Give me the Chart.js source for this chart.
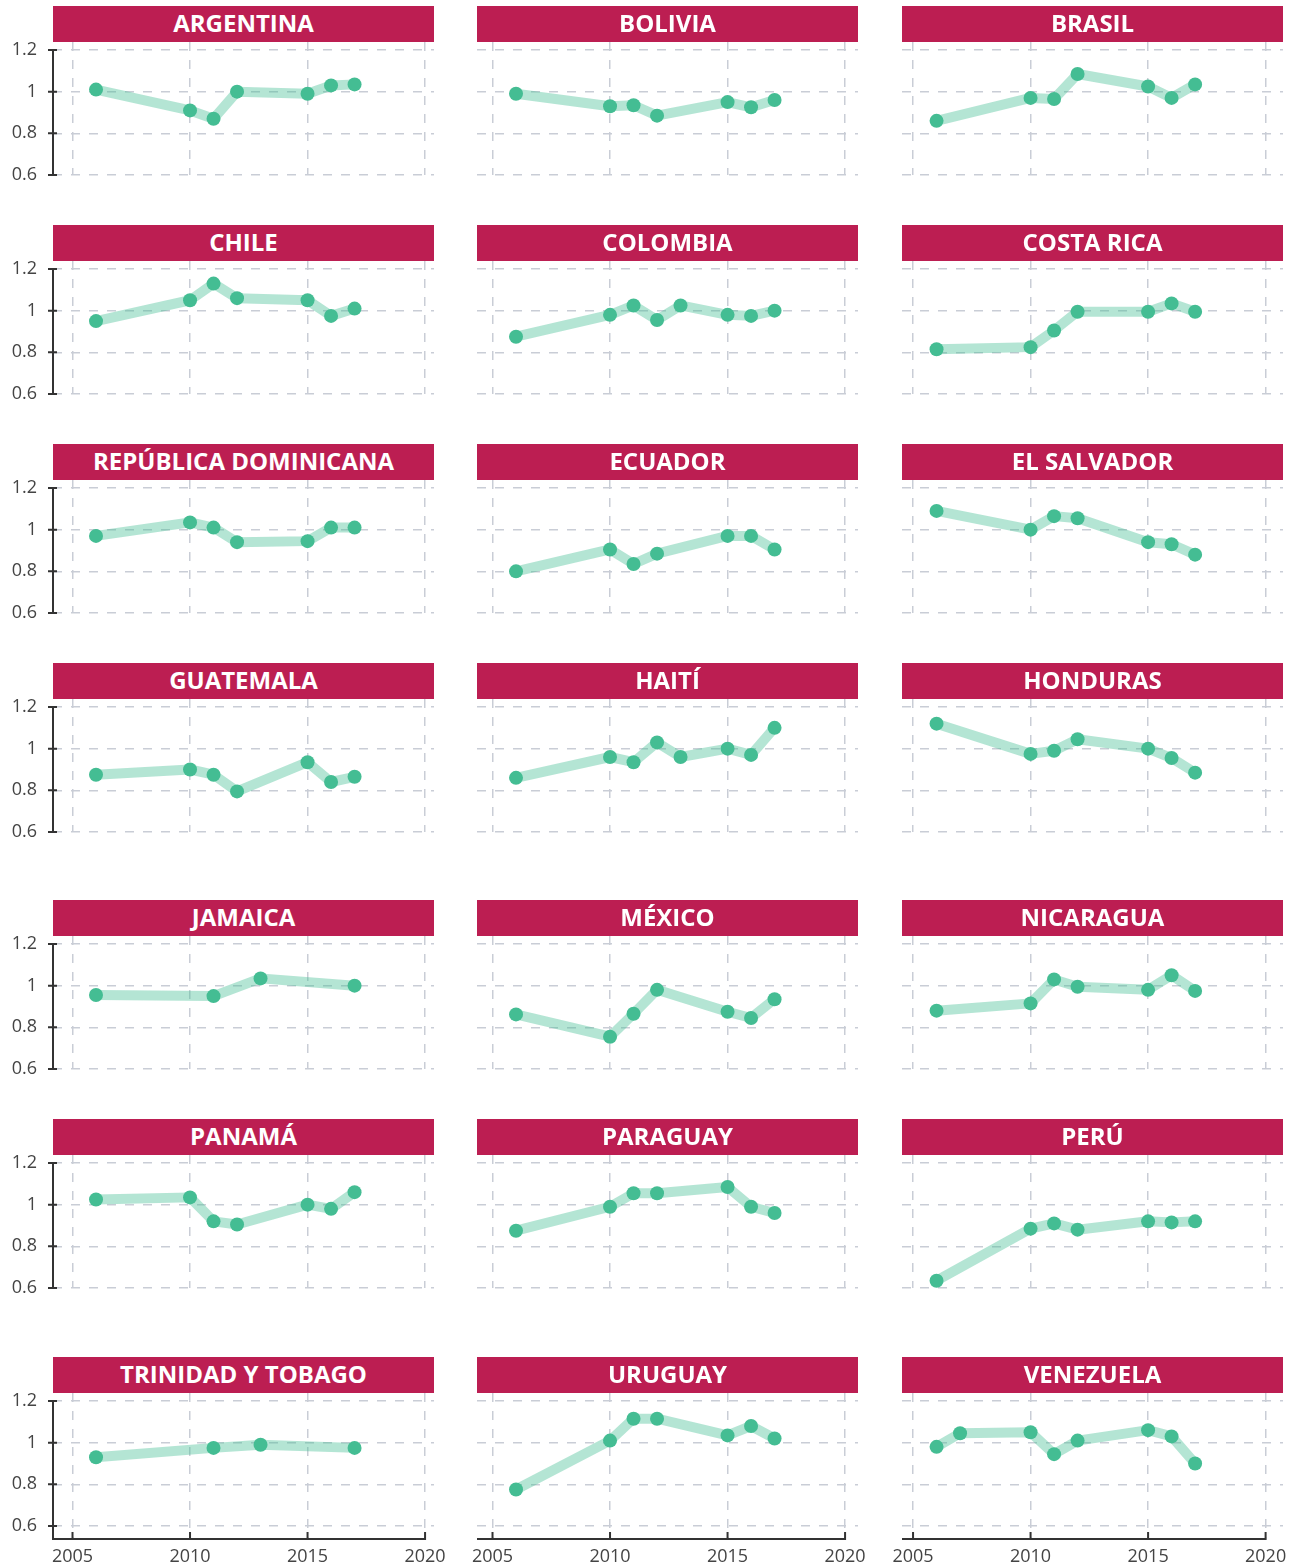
<!DOCTYPE html>
<html>
<head>
<meta charset="utf-8">
<script src="https://cdn.jsdelivr.net/npm/chart.js@4.4.0/dist/chart.umd.min.js"></script>
<style>
  html, body { margin: 0; padding: 0; background: #fff; }
  #page { position: relative; width: 1312px; height: 1566px; overflow: hidden; }
  .head {
    position: absolute; width: 381px; height: 36px; line-height: 37px;
    background: #bc1e52; color: #fff; text-align: center; z-index: 2;
    font: bold 24px 'Open Sans', sans-serif; white-space: nowrap;
  }
  canvas { position: absolute; z-index: 1; }
</style>
</head>
<body>
<div id="page"></div>
<script>
// ---- data ----
const countries = [
  'ARGENTINA', 'BOLIVIA', 'BRASIL',
  'CHILE', 'COLOMBIA', 'COSTA RICA',
  'REPÚBLICA DOMINICANA', 'ECUADOR', 'EL SALVADOR',
  'GUATEMALA', 'HAITÍ', 'HONDURAS',
  'JAMAICA', 'MÉXICO', 'NICARAGUA',
  'PANAMÁ', 'PARAGUAY', 'PERÚ',
  'TRINIDAD Y TOBAGO', 'URUGUAY', 'VENEZUELA'
];

const yearsMain = [2006, 2010, 2011, 2012, 2015, 2016, 2017];
const yearsLong = [2006, 2010, 2011, 2012, 2013, 2015, 2016, 2017];
const yearsShort = [2006, 2011, 2013, 2017];
const yearsVen = [2006, 2007, 2010, 2011, 2012, 2015, 2016, 2017];

const argentina = [1.01, 0.91, 0.87, 1.00, 0.99, 1.03, 1.035];
const bolivia = [0.99, 0.93, 0.935, 0.885, 0.95, 0.925, 0.96];
const brasil = [0.86, 0.97, 0.965, 1.085, 1.025, 0.97, 1.035];
const chile = [0.95, 1.05, 1.13, 1.06, 1.05, 0.975, 1.01];
const colombia = [0.875, 0.98, 1.025, 0.955, 1.025, 0.98, 0.975, 1.0];
const costaRica = [0.815, 0.825, 0.905, 0.995, 0.995, 1.035, 0.995];
const repDominicana = [0.97, 1.035, 1.01, 0.94, 0.945, 1.01, 1.01];
const ecuador = [0.80, 0.905, 0.835, 0.885, 0.97, 0.97, 0.905];
const elSalvador = [1.09, 1.0, 1.065, 1.055, 0.94, 0.93, 0.88];
const guatemala = [0.875, 0.90, 0.875, 0.795, 0.935, 0.84, 0.865];
const haiti = [0.86, 0.96, 0.935, 1.03, 0.96, 1.0, 0.97, 1.10];
const honduras = [1.12, 0.975, 0.99, 1.045, 1.0, 0.955, 0.885];
const jamaica = [0.955, 0.95, 1.035, 1.0];
const mexico = [0.862, 0.755, 0.865, 0.98, 0.875, 0.845, 0.935];
const nicaragua = [0.88, 0.915, 1.03, 0.995, 0.98, 1.05, 0.975];
const panama = [1.025, 1.035, 0.92, 0.905, 1.0, 0.98, 1.06];
const paraguay = [0.875, 0.99, 1.055, 1.055, 1.085, 0.99, 0.96];
const peru = [0.635, 0.885, 0.91, 0.88, 0.92, 0.915, 0.92];
const trinidad = [0.93, 0.975, 0.99, 0.975];
const uruguay = [0.775, 1.01, 1.115, 1.115, 1.035, 1.08, 1.02];
const venezuela = [0.98, 1.045, 1.05, 0.945, 1.01, 1.06, 1.03, 0.90];

const seriesValues = [
  argentina, bolivia, brasil,
  chile, colombia, costaRica,
  repDominicana, ecuador, elSalvador,
  guatemala, haiti, honduras,
  jamaica, mexico, nicaragua,
  panama, paraguay, peru,
  trinidad, uruguay, venezuela
];
const seriesYears = [
  yearsMain, yearsMain, yearsMain,
  yearsMain, yearsLong, yearsMain,
  yearsMain, yearsMain, yearsMain,
  yearsMain, yearsLong, yearsMain,
  yearsShort, yearsMain, yearsMain,
  yearsMain, yearsMain, yearsMain,
  yearsShort, yearsMain, yearsVen
];

const xTicks = [2005, 2010, 2015, 2020];
const yTicks = [0.6, 0.8, 1, 1.2];

// ---- layout ----
const rowTops = [6, 225, 444, 663, 900, 1119, 1357];
const colLefts = [53, 477, 902];
const colXMin = [2004.17, 2004.34, 2004.53];   // each column's axis starts a bit differently
const X_SPAN = 16.21;
const PANEL_W = 381;
const HEAD_H = 36;

const POINT_COLOR = '#44bd93';
const LINE_COLOR = 'rgba(68, 189, 147, 0.4)';
const GRID_COLOR = '#c9cdd6';
const AXIS_COLOR = '#333';

Chart.defaults.font.family = "'Open Sans', sans-serif";
Chart.defaults.font.size = 18;
Chart.defaults.color = '#444';

// axis lines with cross ticks (left column) and inward ticks (bottom row)
const panelAxes = {
  id: 'panelAxes',
  afterDraw(chart, args, opts) {
    const { ctx, chartArea: a, scales: { x, y } } = chart;
    ctx.save();
    ctx.strokeStyle = AXIS_COLOR;
    ctx.lineWidth = 2;
    ctx.setLineDash([]);
    if (opts.left) {
      ctx.beginPath();
      ctx.moveTo(a.left, y.getPixelForValue(yTicks[yTicks.length - 1]) - 1);
      ctx.lineTo(a.left, a.bottom + (opts.bottom ? 1 : 0));
      yTicks.forEach(v => {
        const py = y.getPixelForValue(v);
        ctx.moveTo(a.left - 5, py);
        ctx.lineTo(a.left + 4, py);
      });
      ctx.stroke();
    }
    if (opts.bottom) {
      ctx.beginPath();
      ctx.moveTo(a.left, a.bottom);
      ctx.lineTo(x.getPixelForValue(xTicks[xTicks.length - 1]) + 1, a.bottom);
      xTicks.forEach(v => {
        const px = x.getPixelForValue(v);
        ctx.moveTo(px, a.bottom + 1);
        ctx.lineTo(px, a.bottom - 7);
      });
      ctx.stroke();
    }
    ctx.restore();
  }
};

const page = document.getElementById('page');

countries.forEach((name, i) => {
  const row = Math.floor(i / 3);
  const col = i % 3;
  const left = col === 0;
  const bottom = row === rowTops.length - 1;
  const headTop = rowTops[row];
  const headLeft = colLefts[col];
  const headBottom = headTop + HEAD_H;

  const head = document.createElement('div');
  head.className = 'head';
  head.style.left = headLeft + 'px';
  head.style.top = headTop + 'px';
  head.textContent = name;
  page.appendChild(head);

  const padL = left ? 0 : 15;
  const padR = 20;
  const padT = 12;
  const plotH = bottom ? 146 : 133;
  const xAxisH = bottom ? 32 : 0;
  const padB = bottom ? 0 : 12;

  const canvas = document.createElement('canvas');
  const cw = (left ? headLeft : padL) + PANEL_W + padR;
  const ch = padT + plotH + xAxisH + padB;
  canvas.width = cw;
  canvas.height = ch;
  canvas.style.width = cw + 'px';
  canvas.style.height = ch + 'px';
  canvas.style.left = (left ? 0 : headLeft - padL) + 'px';
  canvas.style.top = (headBottom - padT) + 'px';
  page.appendChild(canvas);

  const points = seriesYears[i].map((yr, k) => ({ x: yr, y: seriesValues[i][k] }));

  new Chart(canvas.getContext('2d'), {
    type: 'line',
    data: {
      datasets: [{
        data: points,
        borderColor: LINE_COLOR,
        borderWidth: 10,
        borderJoinStyle: 'round',
        pointRadius: 7,
        pointHoverRadius: 7,
        pointBorderWidth: 0,
        pointBackgroundColor: POINT_COLOR,
        tension: 0
      }]
    },
    options: {
      responsive: false,
      animation: false,
      devicePixelRatio: 1,
      layout: { padding: { left: padL, right: padR, top: padT, bottom: padB } },
      plugins: {
        legend: { display: false },
        tooltip: { enabled: false },
        panelAxes: { left, bottom }
      },
      scales: {
        x: {
          type: 'linear',
          min: colXMin[col],
          max: colXMin[col] + X_SPAN,
          afterBuildTicks: s => { s.ticks = xTicks.map(v => ({ value: v })); },
          afterFit: s => {
            s.height = xAxisH;
            s.paddingLeft = 0;
            s.paddingRight = 0;
          },
          grid: { color: GRID_COLOR, lineWidth: 1.5, drawTicks: false },
          border: { display: false, dash: [9, 9] },
          ticks: { display: bottom, padding: 7, maxRotation: 0, callback: v => String(v) }
        },
        y: {
          min: bottom ? 0.5376 : 0.6,
          max: 1.2384,
          afterBuildTicks: s => { s.ticks = yTicks.map(v => ({ value: v })); },
          afterFit: s => {
            s.width = left ? headLeft : 0;
            s.paddingTop = 0;
            s.paddingBottom = 0;
          },
          grid: { color: GRID_COLOR, lineWidth: 1.5, drawTicks: false },
          border: { display: false, dash: [9, 9] },
          ticks: { display: left, padding: 16, callback: v => String(v) }
        }
      }
    },
    plugins: [panelAxes]
  });
});
</script>
</body>
</html>
